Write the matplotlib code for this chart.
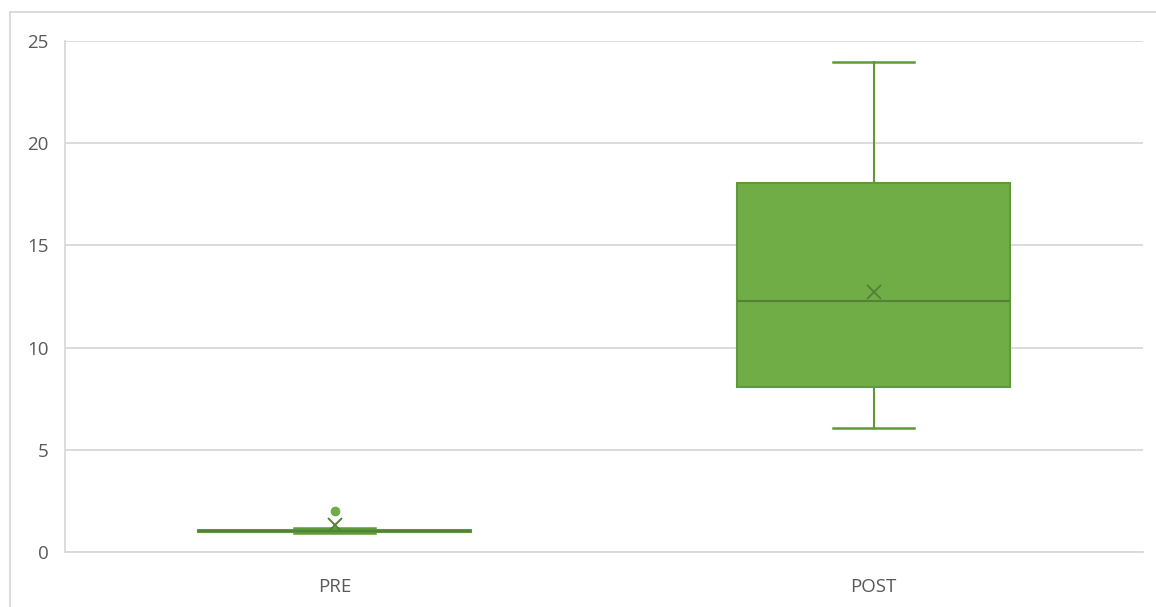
import matplotlib
matplotlib.use("Agg")
import matplotlib.pyplot as plt
from matplotlib.lines import Line2D

# box-plot summary per group
groups = ["PRE", "POST"]
q1 = [1.0, 8.05]
median = [1.05, 12.3]
q3 = [1.1, 18.05]
whis_lo = [0.95, 6.05]
whis_hi = [1.15, 23.95]
means = [1.3, 12.7]
outliers = [[2.0], []]
yticks = [0, 5, 10, 15, 20, 25]

FILL = "#70AD47"
EDGE = "#5E9A3A"
DARK = "#548235"
GRID = "#D9D9D9"
TXT = "#595959"

plt.rcParams["font.family"] = ["Open Sans", "DejaVu Sans"]

fig = plt.figure(figsize=(11.56, 6.07), dpi=100)
ax = fig.add_axes([65 / 1156, 1 - 552 / 607, 1078 / 1156, 511 / 607])

stats = []
for i, g in enumerate(groups):
    stats.append(dict(label=g, q1=q1[i], med=median[i], q3=q3[i],
                      whislo=whis_lo[i], whishi=whis_hi[i],
                      mean=means[i], fliers=outliers[i]))

pos = [1, 2]
ax.bxp(stats, positions=pos, widths=0.505, capwidths=0.15,
       patch_artist=True, showmeans=True, showfliers=True,
       boxprops=dict(facecolor=FILL, edgecolor=EDGE, linewidth=1.5),
       medianprops=dict(color=DARK, linewidth=1.5),
       whiskerprops=dict(color=EDGE, linewidth=1.5),
       capprops=dict(color=EDGE, linewidth=1.8),
       meanprops=dict(marker="x", markersize=10, markeredgecolor=DARK,
                      markeredgewidth=1.4),
       flierprops=dict(marker="o", markersize=6, markerfacecolor=FILL,
                       markeredgecolor=FILL))

ax.set_xlim(0.5, 2.5)
ax.set_ylim(0, 25)
ax.set_yticks(yticks)
ax.set_xticks(pos)
ax.set_xticklabels(groups)
ax.yaxis.grid(True, color=GRID, linewidth=1.3)
ax.set_axisbelow(True)
for s in ["top", "right"]:
    ax.spines[s].set_visible(False)
for s in ["left", "bottom"]:
    ax.spines[s].set_color(GRID)
    ax.spines[s].set_linewidth(1.3)
ax.tick_params(axis="both", length=0, colors=TXT, labelsize=13.5)
ax.tick_params(axis="x", pad=19)
ax.tick_params(axis="y", pad=12)

# outer chart border (top and left edges only fall inside the image)
bx, by = 10 / 1156, 1 - 12 / 607
fig.add_artist(Line2D([bx, 1], [by, by], color=GRID, linewidth=1.3,
                      transform=fig.transFigure))
fig.add_artist(Line2D([bx, bx], [0, by], color=GRID, linewidth=1.3,
                      transform=fig.transFigure))

fig.savefig("out.png", dpi=100, facecolor="white")
